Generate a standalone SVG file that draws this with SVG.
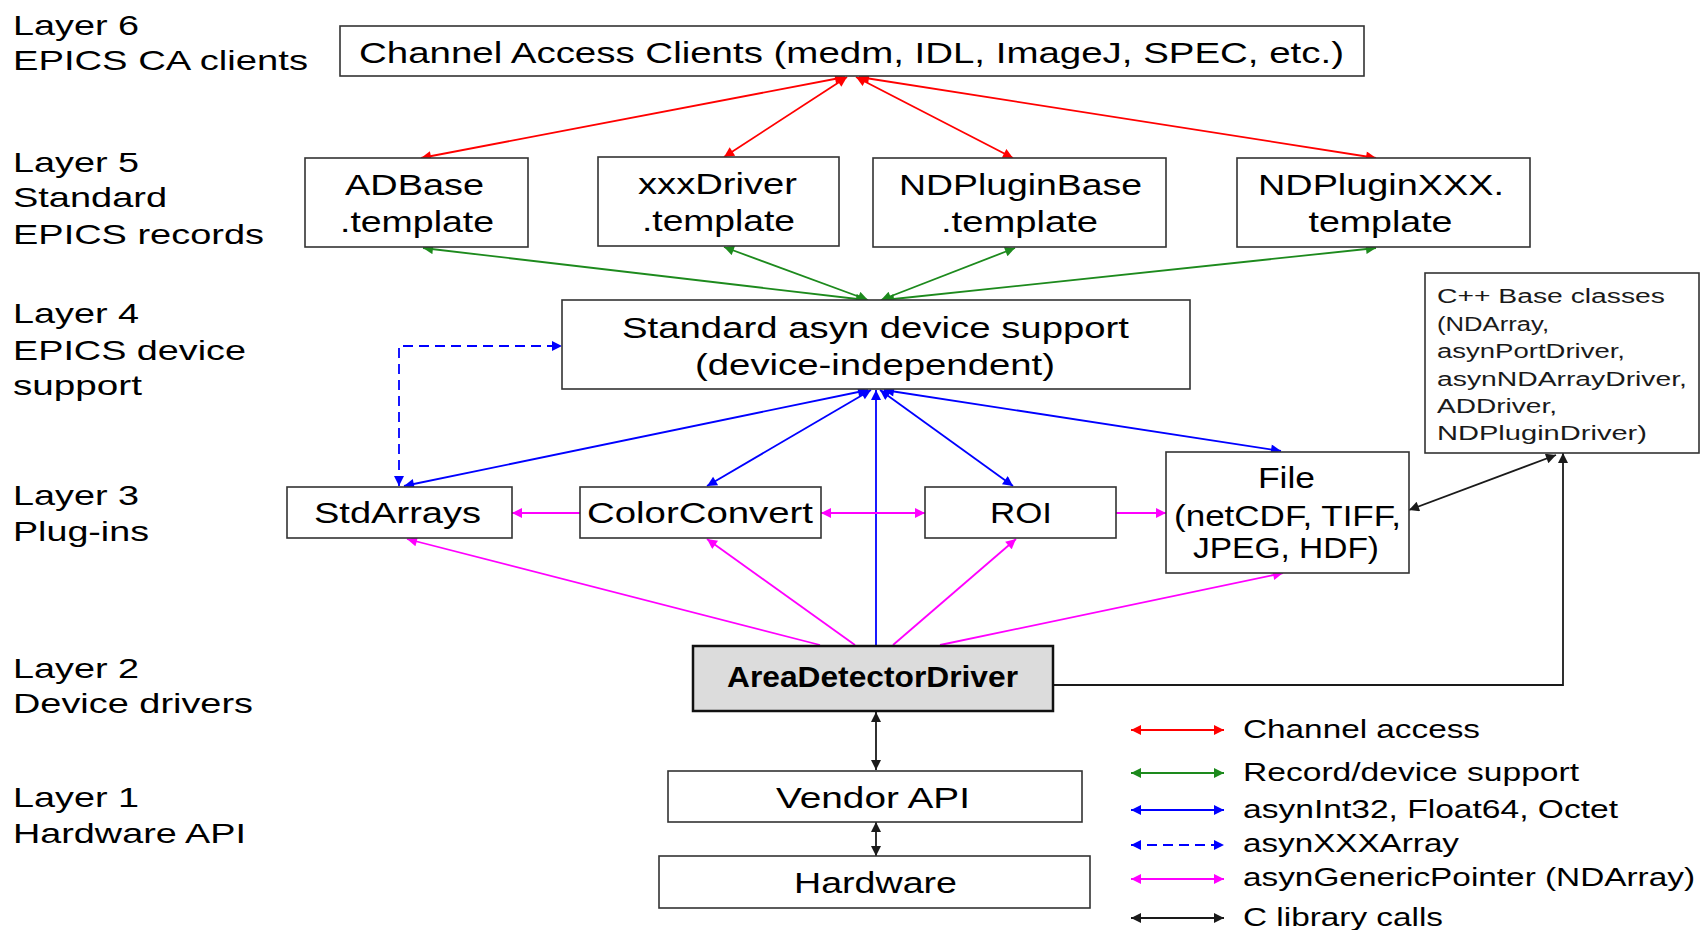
<svg xmlns="http://www.w3.org/2000/svg" width="1701" height="930" viewBox="0 0 1701 930">
<style>
text{font-family:"Liberation Sans",Arial,sans-serif;fill:#000}
.lay{font-size:28px}
.bx{font-size:29px;text-anchor:middle}
.lg{font-size:26px}
.cpp{font-size:19.5px;fill:#1a1a1a}
.box{fill:#fff;stroke:#333;stroke-width:1.6}
.c{fill:none;stroke-width:1.8}
.red{stroke:#ff0000}
.grn{stroke:#1d8a1d}
.blu{stroke:#0000ff}
.mag{stroke:#ff00ff}
.blk{stroke:#1a1a1a}
</style>
<defs>
<marker id="ar" viewBox="0 0 10 10" refX="10" refY="5" markerUnits="userSpaceOnUse" markerWidth="12" markerHeight="10" orient="auto-start-reverse"><path d="M0,0L10,5L0,10z" fill="#ff0000"/></marker>
<marker id="ag" viewBox="0 0 10 10" refX="10" refY="5" markerUnits="userSpaceOnUse" markerWidth="12" markerHeight="10" orient="auto-start-reverse"><path d="M0,0L10,5L0,10z" fill="#1d8a1d"/></marker>
<marker id="ab" viewBox="0 0 10 10" refX="10" refY="5" markerUnits="userSpaceOnUse" markerWidth="12" markerHeight="10" orient="auto-start-reverse"><path d="M0,0L10,5L0,10z" fill="#0000ff"/></marker>
<marker id="am" viewBox="0 0 10 10" refX="10" refY="5" markerUnits="userSpaceOnUse" markerWidth="12" markerHeight="10" orient="auto-start-reverse"><path d="M0,0L10,5L0,10z" fill="#ff00ff"/></marker>
<marker id="ak" viewBox="0 0 10 10" refX="10" refY="5" markerUnits="userSpaceOnUse" markerWidth="12" markerHeight="10" orient="auto-start-reverse"><path d="M0,0L10,5L0,10z" fill="#1a1a1a"/></marker>
</defs>

<g id="layer-labels">
<text class="lay" x="13" y="35" textLength="126" lengthAdjust="spacingAndGlyphs">Layer 6</text>
<text class="lay" x="13" y="70" textLength="295" lengthAdjust="spacingAndGlyphs">EPICS CA clients</text>
<text class="lay" x="13" y="172" textLength="126" lengthAdjust="spacingAndGlyphs">Layer 5</text>
<text class="lay" x="13" y="207" textLength="154" lengthAdjust="spacingAndGlyphs">Standard</text>
<text class="lay" x="13" y="244" textLength="251" lengthAdjust="spacingAndGlyphs">EPICS records</text>
<text class="lay" x="13" y="323" textLength="126" lengthAdjust="spacingAndGlyphs">Layer 4</text>
<text class="lay" x="13" y="360" textLength="233" lengthAdjust="spacingAndGlyphs">EPICS device</text>
<text class="lay" x="13" y="395" textLength="129" lengthAdjust="spacingAndGlyphs">support</text>
<text class="lay" x="13" y="505" textLength="126" lengthAdjust="spacingAndGlyphs">Layer 3</text>
<text class="lay" x="13" y="541" textLength="136" lengthAdjust="spacingAndGlyphs">Plug-ins</text>
<text class="lay" x="13" y="678" textLength="126" lengthAdjust="spacingAndGlyphs">Layer 2</text>
<text class="lay" x="13" y="713" textLength="240" lengthAdjust="spacingAndGlyphs">Device drivers</text>
<text class="lay" x="13" y="807" textLength="126" lengthAdjust="spacingAndGlyphs">Layer 1</text>
<text class="lay" x="13" y="843" textLength="233" lengthAdjust="spacingAndGlyphs">Hardware API</text>
</g>

<g id="connectors">
<line class="c red" x1="845" y1="77" x2="421" y2="158" marker-start="url(#ar)" marker-end="url(#ar)"/>
<line class="c red" x1="847" y1="77" x2="724" y2="157" marker-start="url(#ar)" marker-end="url(#ar)"/>
<line class="c red" x1="856" y1="77" x2="1013" y2="158" marker-start="url(#ar)" marker-end="url(#ar)"/>
<line class="c red" x1="859" y1="77" x2="1376" y2="158" marker-start="url(#ar)" marker-end="url(#ar)"/>
<line class="c grn" x1="423" y1="248" x2="866" y2="300" marker-start="url(#ag)" marker-end="url(#ag)"/>
<line class="c grn" x1="724" y1="247" x2="868" y2="300" marker-start="url(#ag)" marker-end="url(#ag)"/>
<line class="c grn" x1="1015" y1="248" x2="881" y2="300" marker-start="url(#ag)" marker-end="url(#ag)"/>
<line class="c grn" x1="1376" y1="248" x2="884" y2="300" marker-start="url(#ag)" marker-end="url(#ag)"/>
<line class="c blu" x1="868" y1="390" x2="404" y2="486" marker-start="url(#ab)" marker-end="url(#ab)"/>
<line class="c blu" x1="871" y1="390" x2="707" y2="486" marker-start="url(#ab)" marker-end="url(#ab)"/>
<line class="c blu" x1="880" y1="390" x2="1013" y2="486" marker-start="url(#ab)" marker-end="url(#ab)"/>
<line class="c blu" x1="884" y1="390" x2="1281" y2="451" marker-start="url(#ab)" marker-end="url(#ab)"/>
<line class="c blu" x1="876" y1="645" x2="876" y2="390" marker-end="url(#ab)"/>
<polyline class="c blu" points="399,486 399,346 562,346" stroke-dasharray="10,6" marker-start="url(#ab)" marker-end="url(#ab)"/>
<line class="c mag" x1="820" y1="645" x2="407" y2="539" marker-end="url(#am)"/>
<line class="c mag" x1="855" y1="645" x2="707" y2="539" marker-end="url(#am)"/>
<line class="c mag" x1="893" y1="645" x2="1016" y2="539" marker-end="url(#am)"/>
<line class="c mag" x1="940" y1="645" x2="1283" y2="573" marker-end="url(#am)"/>
<line class="c mag" x1="580" y1="513" x2="512" y2="513" marker-end="url(#am)"/>
<line class="c mag" x1="821" y1="513" x2="925" y2="513" marker-start="url(#am)" marker-end="url(#am)"/>
<line class="c mag" x1="1116" y1="513" x2="1166" y2="513" marker-end="url(#am)"/>
<polyline class="c blk" points="1053,685 1563,685 1563,453" marker-end="url(#ak)"/>
<line class="c blk" x1="1409" y1="510" x2="1556" y2="455" marker-start="url(#ak)" marker-end="url(#ak)"/>
<line class="c blk" x1="876" y1="712" x2="876" y2="770" marker-start="url(#ak)" marker-end="url(#ak)"/>
<line class="c blk" x1="876" y1="822" x2="876" y2="856" marker-start="url(#ak)" marker-end="url(#ak)"/>
</g>

<g id="ca-clients">
<rect class="box" x="340" y="26" width="1024" height="50"/>
<text class="bx" x="851.5" y="63" textLength="985" lengthAdjust="spacingAndGlyphs">Channel Access Clients (medm, IDL, ImageJ, SPEC, etc.)</text>
</g>
<g id="adbase-template">
<rect class="box" x="305" y="158" width="223" height="89"/>
<text class="bx" x="414.5" y="195" textLength="139" lengthAdjust="spacingAndGlyphs">ADBase</text>
<text class="bx" x="417" y="232" textLength="154" lengthAdjust="spacingAndGlyphs">.template</text>
</g>
<g id="xxxdriver-template">
<rect class="box" x="598" y="157" width="241" height="89"/>
<text class="bx" x="717.5" y="194" textLength="159" lengthAdjust="spacingAndGlyphs">xxxDriver</text>
<text class="bx" x="718.5" y="231" textLength="153" lengthAdjust="spacingAndGlyphs">.template</text>
</g>
<g id="ndpluginbase-template">
<rect class="box" x="873" y="158" width="293" height="89"/>
<text class="bx" x="1020.5" y="195" textLength="243" lengthAdjust="spacingAndGlyphs">NDPluginBase</text>
<text class="bx" x="1019.5" y="232" textLength="157" lengthAdjust="spacingAndGlyphs">.template</text>
</g>
<g id="ndpluginxxx-template">
<rect class="box" x="1237" y="158" width="293" height="89"/>
<text class="bx" x="1381" y="195" textLength="246" lengthAdjust="spacingAndGlyphs">NDPluginXXX.</text>
<text class="bx" x="1380.5" y="232" textLength="144" lengthAdjust="spacingAndGlyphs">template</text>
</g>
<g id="asyn-device-support">
<rect class="box" x="562" y="300" width="628" height="89"/>
<text class="bx" x="875.5" y="338" textLength="507" lengthAdjust="spacingAndGlyphs">Standard asyn device support</text>
<text class="bx" x="875" y="375" textLength="360" lengthAdjust="spacingAndGlyphs">(device-independent)</text>
</g>
<g id="stdarrays">
<rect class="box" x="287" y="487" width="225" height="51"/>
<text class="bx" x="397.5" y="523" textLength="167" lengthAdjust="spacingAndGlyphs">StdArrays</text>
</g>
<g id="colorconvert">
<rect class="box" x="580" y="487" width="241" height="51"/>
<text class="bx" x="700" y="523" textLength="226" lengthAdjust="spacingAndGlyphs">ColorConvert</text>
</g>
<g id="roi">
<rect class="box" x="925" y="487" width="191" height="51"/>
<text class="bx" x="1021" y="523" textLength="62" lengthAdjust="spacingAndGlyphs">ROI</text>
</g>
<g id="file">
<rect class="box" x="1166" y="452" width="243" height="121"/>
<text class="bx" x="1286.5" y="488" textLength="57" lengthAdjust="spacingAndGlyphs">File</text>
<text class="bx" x="1287.5" y="526" textLength="227" lengthAdjust="spacingAndGlyphs">(netCDF, TIFF,</text>
<text class="bx" x="1286" y="558" textLength="186" lengthAdjust="spacingAndGlyphs">JPEG, HDF)</text>
</g>
<g id="cpp-base-classes">
<rect class="box" x="1425" y="273" width="274" height="180"/>
<text class="cpp" x="1437" y="303" textLength="228" lengthAdjust="spacingAndGlyphs">C++ Base classes</text>
<text class="cpp" x="1437" y="331" textLength="112" lengthAdjust="spacingAndGlyphs">(NDArray,</text>
<text class="cpp" x="1437" y="358" textLength="188" lengthAdjust="spacingAndGlyphs">asynPortDriver,</text>
<text class="cpp" x="1437" y="386" textLength="250" lengthAdjust="spacingAndGlyphs">asynNDArrayDriver,</text>
<text class="cpp" x="1437" y="413" textLength="120" lengthAdjust="spacingAndGlyphs">ADDriver,</text>
<text class="cpp" x="1437" y="440" textLength="210" lengthAdjust="spacingAndGlyphs">NDPluginDriver)</text>
</g>
<g id="areadetectordriver">
<rect x="693" y="646" width="360" height="65" fill="#dcdcdc" stroke="#111" stroke-width="2.5"/>
<text class="bx" x="872.5" y="687" font-size="28" font-weight="bold" textLength="291" lengthAdjust="spacingAndGlyphs">AreaDetectorDriver</text>
</g>
<g id="vendor-api">
<rect class="box" x="668" y="771" width="414" height="51"/>
<text class="bx" x="873" y="808" textLength="194" lengthAdjust="spacingAndGlyphs">Vendor API</text>
</g>
<g id="hardware">
<rect class="box" x="659" y="856" width="431" height="52"/>
<text class="bx" x="875.5" y="893" textLength="163" lengthAdjust="spacingAndGlyphs">Hardware</text>
</g>

<g id="legend">
<line class="c red" x1="1131" y1="730" x2="1224" y2="730" marker-start="url(#ar)" marker-end="url(#ar)"/>
<line class="c grn" x1="1131" y1="773" x2="1224" y2="773" marker-start="url(#ag)" marker-end="url(#ag)"/>
<line class="c blu" x1="1131" y1="810" x2="1224" y2="810" marker-start="url(#ab)" marker-end="url(#ab)"/>
<line class="c blu" x1="1131" y1="845" x2="1224" y2="845" stroke-dasharray="10,6" marker-start="url(#ab)" marker-end="url(#ab)"/>
<line class="c mag" x1="1131" y1="879" x2="1224" y2="879" marker-start="url(#am)" marker-end="url(#am)"/>
<line class="c blk" x1="1131" y1="918" x2="1224" y2="918" marker-start="url(#ak)" marker-end="url(#ak)"/>
<text class="lg" x="1243" y="738" textLength="237" lengthAdjust="spacingAndGlyphs">Channel access</text>
<text class="lg" x="1243" y="781" textLength="336" lengthAdjust="spacingAndGlyphs">Record/device support</text>
<text class="lg" x="1243" y="818" textLength="375" lengthAdjust="spacingAndGlyphs">asynInt32, Float64, Octet</text>
<text class="lg" x="1243" y="852" textLength="216" lengthAdjust="spacingAndGlyphs">asynXXXArray</text>
<text class="lg" x="1243" y="886" textLength="452" lengthAdjust="spacingAndGlyphs">asynGenericPointer (NDArray)</text>
<text class="lg" x="1243" y="926" textLength="200" lengthAdjust="spacingAndGlyphs">C library calls</text>
</g>
</svg>
